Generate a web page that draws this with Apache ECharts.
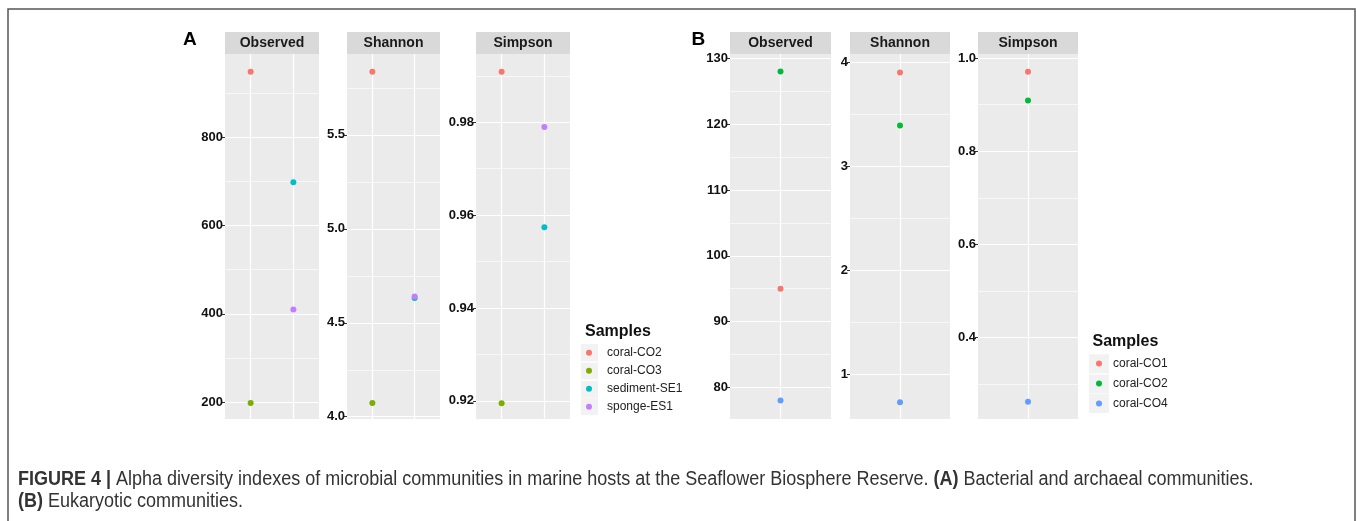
<!DOCTYPE html>
<html>
<head>
<meta charset="utf-8">
<script src="https://cdn.jsdelivr.net/npm/echarts@6/dist/echarts.min.js"></script>
<style>
html,body{margin:0;padding:0;background:#fff;}
#chart{width:1357px;height:521px;}
</style>
</head>
<body>
<div id="chart"></div>
<script>
// ---------- data ----------
const samplesA = ['coral-CO2', 'coral-CO3', 'sediment-SE1', 'sponge-ES1'];
const groupA = [1, 1, 2, 2];
const observedA = [948, 198, 698, 410];
const shannonA = [5.836, 4.073, 4.632, 4.640];
const simpsonA = [0.9909, 0.9195, 0.9574, 0.979];
const colorsA = ['#F8766D', '#7CAE00', '#00BFC4', '#C77CFF'];

const samplesB = ['coral-CO1', 'coral-CO2', 'coral-CO4'];
const groupB = [1, 1, 1];
const observedB = [95, 128, 78];
const shannonB = [3.90, 3.39, 0.73];
const simpsonB = [0.971, 0.909, 0.262];
const colorsB = ['#F8766D', '#00BA38', '#619CFF'];

const metrics = ['Observed', 'Shannon', 'Simpson'];

const ticksAObs = [200, 400, 600, 800];
const minorAObs = [300, 500, 700, 900];
const ticksASha = [4.0, 4.5, 5.0, 5.5];
const minorASha = [4.25, 4.75, 5.25, 5.75];
const ticksASim = [0.92, 0.94, 0.96, 0.98];
const minorASim = [0.93, 0.95, 0.97, 0.99];
const ticksBObs = [80, 90, 100, 110, 120, 130];
const minorBObs = [85, 95, 105, 115, 125];
const ticksBSha = [1, 2, 3, 4];
const minorBSha = [1.5, 2.5, 3.5];
const ticksBSim = [0.4, 0.6, 0.8, 1.0];
const minorBSim = [0.3, 0.5, 0.7, 0.9];

// ---------- layout ----------
const PTOP = 54, PH = 365;
const panels = [
  {fig:'A', left:225, width:94, yMin:162, yMax:988, ticks:ticksAObs, minor:minorAObs, dec:0, xMin:0.4, xMax:2.6, xTicks:[1,2], metric:0},
  {fig:'A', left:347, width:93, yMin:3.988, yMax:5.93, ticks:ticksASha, minor:minorASha, dec:1, xMin:0.4, xMax:2.6, xTicks:[1,2], metric:1},
  {fig:'A', left:476, width:94, yMin:0.9161, yMax:0.9947, ticks:ticksASim, minor:minorASim, dec:2, xMin:0.4, xMax:2.6, xTicks:[1,2], metric:2},
  {fig:'B', left:730, width:101, yMin:75.2, yMax:130.65, ticks:ticksBObs, minor:minorBObs, dec:0, xMin:0.4, xMax:1.6, xTicks:[1], metric:0},
  {fig:'B', left:850, width:100, yMin:0.569, yMax:4.077, ticks:ticksBSha, minor:minorBSha, dec:0, xMin:0.4, xMax:1.6, xTicks:[1], metric:1},
  {fig:'B', left:978, width:100, yMin:0.225, yMax:1.009, ticks:ticksBSim, minor:minorBSim, dec:1, xMin:0.4, xMax:1.6, xTicks:[1], metric:2}
];

const valuesA = [observedA, shannonA, simpsonA];
const valuesB = [observedB, shannonB, simpsonB];
const PREFIX_B = 'B:';

const grids = [], xAxes = [], yAxes = [], series = [], graphics = [];

panels.forEach((p, i) => {
  grids.push({left: p.left, top: PTOP, width: p.width, height: PH, show: true,
              backgroundColor: '#EBEBEB', borderWidth: 0, containLabel: false});
  xAxes.push({gridIndex: i, type: 'value', min: p.xMin, max: p.xMax, show: false});
  yAxes.push({
    gridIndex: i, type: 'value', min: p.yMin, max: p.yMax,
    axisLine: {show: false},
    axisTick: {show: true, length: 3, customValues: p.ticks, lineStyle: {color: '#333', width: 1}},
    axisLabel: {show: true, customValues: p.ticks, margin: 2, fontSize: 13, fontWeight: 'bold',
                color: '#111', fontFamily: 'Liberation Sans, Arial, sans-serif',
                formatter: v => Number(v).toFixed(p.dec)},
    splitLine: {show: false}
  });
  // background grid lines drawn through the axis scales
  const ml = [];
  p.minor.forEach(v => ml.push({yAxis: v, lineStyle: {color: '#fff', width: 0.6, type: 'solid'}}));
  p.ticks.forEach(v => ml.push({yAxis: v, lineStyle: {color: '#fff', width: 1.2, type: 'solid'}}));
  p.xTicks.forEach(v => ml.push({xAxis: v, lineStyle: {color: '#fff', width: 1.2, type: 'solid'}}));
  series.push({
    name: 'grid' + i, type: 'scatter', xAxisIndex: i, yAxisIndex: i, data: [], z: 1, silent: true,
    markLine: {silent: true, z: 1, zlevel: 0, symbol: ['none', 'none'], label: {show: false}, animation: false, data: ml}
  });
  // points
  const samples = p.fig === 'A' ? samplesA : samplesB;
  const groups = p.fig === 'A' ? groupA : groupB;
  const vals = (p.fig === 'A' ? valuesA : valuesB)[p.metric];
  const cols = p.fig === 'A' ? colorsA : colorsB;
  samples.forEach((s, k) => {
    series.push({
      name: p.fig === 'A' ? s : PREFIX_B + s,
      type: 'scatter', xAxisIndex: i, yAxisIndex: i, z: 10,
      symbol: 'circle', symbolSize: 6,
      itemStyle: {color: cols[k], opacity: 1},
      data: [[groups[k], vals[k]]],
      animation: false
    });
  });
  // strip header
  graphics.push({type: 'rect', shape: {x: p.left, y: 32, width: p.width, height: 22},
                 style: {fill: '#D9D9D9'}, silent: true});
  graphics.push({type: 'text', x: p.left + p.width / 2, y: 43,
                 style: {text: metrics[p.metric], fill: '#1A1A1A', font: 'bold 14px "Liberation Sans", Arial, sans-serif',
                         textAlign: 'center', textVerticalAlign: 'middle'}, silent: true});
});

// legend key backgrounds
const keyRowsA = [352.7, 371, 389.3, 406.7];
keyRowsA.forEach(c => graphics.push({type: 'rect', shape: {x: 581, y: c - 8.5, width: 17, height: 17},
                                    style: {fill: '#F2F2F2'}, silent: true, z: -1}));
const keyRowsB = [363.8, 384, 403.6];
keyRowsB.forEach(c => graphics.push({type: 'rect', shape: {x: 1089, y: c - 9.5, width: 20, height: 19},
                                    style: {fill: '#F2F2F2'}, silent: true, z: -1}));

// titles, panel letters, caption, frame
const capFont = '"Liberation Sans", Arial, sans-serif';
graphics.push(
  {type: 'text', x: 585, y: 331.7, style: {text: 'Samples', fill: '#111', font: 'bold 16px "Liberation Sans", Arial, sans-serif', textVerticalAlign: 'middle'}},
  {type: 'text', x: 1092.5, y: 341.7, style: {text: 'Samples', fill: '#111', font: 'bold 16px "Liberation Sans", Arial, sans-serif', textVerticalAlign: 'middle'}},
  {type: 'text', x: 183, y: 40, style: {text: 'A', fill: '#000', font: 'bold 19px "Liberation Sans", Arial, sans-serif', textVerticalAlign: 'middle'}},
  {type: 'text', x: 691.5, y: 40, style: {text: 'B', fill: '#000', font: 'bold 19px "Liberation Sans", Arial, sans-serif', textVerticalAlign: 'middle'}},
  {type: 'rect', shape: {x: 8, y: 9, width: 1347, height: 530}, style: {fill: 'none', stroke: '#555', lineWidth: 1.5}, silent: true},
  {type: 'text', x: 18, y: 479.5, scaleX: 0.9, style: {
      text: '{b|FIGURE 4 |} Alpha diversity indexes of microbial communities in marine hosts at the Seaflower Biosphere Reserve. {b|(A)} Bacterial and archaeal communities.',
      textVerticalAlign: 'middle',
      font: '20px ' + capFont, fill: '#333',
      rich: {b: {fontWeight: 'bold', fontSize: 20, fontFamily: capFont, fill: '#333'}}
  }},
  {type: 'text', x: 18, y: 501, scaleX: 0.9, style: {
      text: '{b|(B)} Eukaryotic communities.',
      textVerticalAlign: 'middle',
      font: '20px ' + capFont, fill: '#333',
      rich: {b: {fontWeight: 'bold', fontSize: 20, fontFamily: capFont, fill: '#333'}}
  }}
);

const legendCommon = {
  orient: 'vertical', padding: 0, icon: 'circle', itemWidth: 6, itemHeight: 6, itemGap: 2,
  selectedMode: false, inactiveColor: '#ccc',
  textStyle: {fontSize: 12, color: '#222', fontFamily: '"Liberation Sans", Arial, sans-serif'}
};

const option = {
  backgroundColor: '#fff',
  animation: false,
  grid: grids,
  xAxis: xAxes,
  yAxis: yAxes,
  legend: [
    Object.assign({}, legendCommon, {
      left: 586, top: 344.7, data: samplesA,
      textStyle: Object.assign({}, legendCommon.textStyle, {lineHeight: 16, padding: [0, 0, 0, 10]})
    }),
    Object.assign({}, legendCommon, {
      left: 1096, top: 354.5, data: samplesB.map(s => PREFIX_B + s),
      formatter: n => n.replace(PREFIX_B, ''),
      itemGap: 2,
      textStyle: Object.assign({}, legendCommon.textStyle, {lineHeight: 18, padding: [0, 0, 0, 6]})
    })
  ],
  graphic: graphics,
  series: series
};

const chart = echarts.init(document.getElementById('chart'), null, {renderer: 'canvas'});
chart.setOption(option);
</script>
</body>
</html>
